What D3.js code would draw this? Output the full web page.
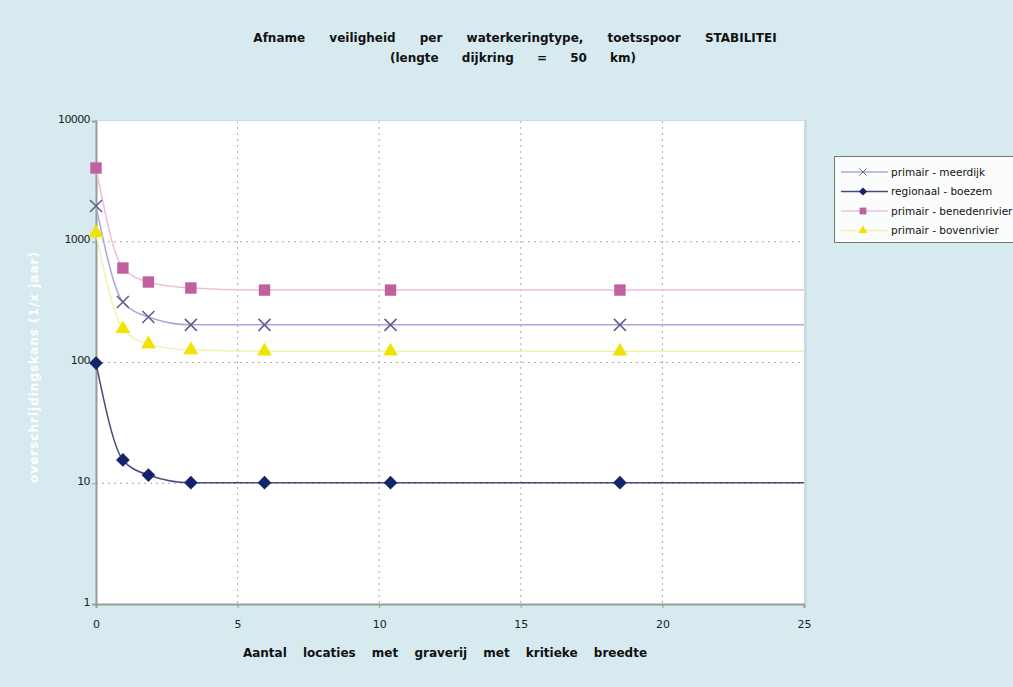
<!DOCTYPE html>
<html>
<head>
<meta charset="utf-8">
<script src="https://cdn.jsdelivr.net/npm/d3@7"></script>
<style>
  body { margin: 0; background: #d6eaf0; }
  svg { display: block; }
</style>
</head>
<body>
<div id="chart"></div>
<script>
// Data
const xValues = [0, 0.95, 1.85, 3.35, 5.95, 10.4, 18.5, 25];
const markerCount = 7; // last point only carries the line to the plot edge

const meerdijk = [1980, 317, 238, 205, 205, 205, 205, 205];
const boezem = [99, 15.6, 11.7, 10.1, 10.1, 10.1, 10.1, 10.1];
const benedenrivier = [4080, 606, 464, 414, 398, 398, 398, 398];
const bovenrivier = [1180, 190, 142, 127, 124, 124, 124, 124];

const xTicks = [0, 5, 10, 15, 20, 25];
const yTicks = [1, 10, 100, 1000, 10000];

const series = [
    { name: "primair - meerdijk", values: meerdijk, line: "#a8a8d8", marker: "#5e5e8c", symbol: "x" },
    { name: "regionaal - boezem", values: boezem, line: "#48487e", marker: "#14246a", symbol: "diamond" },
    { name: "primair - benedenrivier", values: benedenrivier, line: "#ecc0dc", marker: "#c0619e", symbol: "square" },
    { name: "primair - bovenrivier", values: bovenrivier, line: "#f6f0b0", marker: "#f2e200", symbol: "triangle" }
];

const width = 1013;
const height = 687;
const margin = { top: 121, right: 209, bottom: 83, left: 96 };
const font = "'DejaVu Sans', Verdana, sans-serif";

const svg = d3.select("#chart")
    .append("svg")
    .attr("width", width)
    .attr("height", height)
    .style("font-family", font);

svg.append("rect")
    .attr("width", width)
    .attr("height", height)
    .attr("fill", "#d6eaf0");

// Scales
const x = d3.scaleLinear()
    .domain([0, 25])
    .range([margin.left, width - margin.right]);

const y = d3.scaleLog()
    .domain([1, 10000])
    .range([height - margin.bottom, margin.top]);

// Plot area with a soft shadow
svg.append("rect")
    .attr("x", margin.left + 3)
    .attr("y", margin.top - 1)
    .attr("width", x(25) - margin.left)
    .attr("height", y(1) - y(10000))
    .attr("fill", "#c8dde3");

svg.append("rect")
    .attr("x", margin.left)
    .attr("y", margin.top)
    .attr("width", x(25) - margin.left)
    .attr("height", y(1) - y(10000))
    .attr("fill", "#ffffff");

// Gridlines
svg.append("g")
    .selectAll("line")
    .data(xTicks.filter(d => d > 0 && d < 25))
    .join("line")
    .attr("x1", d => x(d))
    .attr("x2", d => x(d))
    .attr("y1", y(10000))
    .attr("y2", y(1))
    .attr("stroke", "#a8a8a8")
    .attr("stroke-width", 1)
    .attr("stroke-dasharray", "2,4");

svg.append("g")
    .selectAll("line")
    .data(yTicks.filter(d => d > 1 && d < 10000))
    .join("line")
    .attr("x1", x(0))
    .attr("x2", x(25))
    .attr("y1", d => y(d))
    .attr("y2", d => y(d))
    .attr("stroke", "#a8a8a8")
    .attr("stroke-width", 1)
    .attr("stroke-dasharray", "2,4");

// Axes
const xAxis = svg.append("g")
    .attr("transform", `translate(0, ${y(1)})`)
    .call(d3.axisBottom(x)
        .tickValues(xTicks)
        .tickSize(4)
        .tickPadding(12)
        .tickFormat(d3.format("d")));

const yAxis = svg.append("g")
    .attr("transform", `translate(${x(0)}, 0)`)
    .call(d3.axisLeft(y)
        .tickValues(yTicks)
        .tickSize(4)
        .tickPadding(2)
        .tickFormat(d3.format("d")));

[xAxis, yAxis].forEach(g => {
    g.select(".domain").attr("stroke", "#9a9a9a").attr("stroke-width", 2);
    g.selectAll(".tick line").attr("stroke", "#9a9a9a");
    g.selectAll(".tick text")
        .attr("fill", "#222")
        .style("font-family", font)
        .style("font-size", "11px");
});
yAxis.selectAll(".tick text").attr("dy", "0.1em").style("letter-spacing", "-0.6px");

// Lines and markers
const line = d3.line()
    .x((d, i) => x(xValues[i]))
    .y(d => y(d))
    .curve(d3.curveMonotoneX);

function drawMarker(g, s, cx, cy) {
    if (s.symbol === "x") {
        g.append("path")
            .attr("d", `M${cx - 6},${cy - 6}L${cx + 6},${cy + 6}M${cx - 6},${cy + 6}L${cx + 6},${cy - 6}`)
            .attr("stroke", s.marker)
            .attr("stroke-width", 1.5)
            .attr("fill", "none");
    } else {
        const type = s.symbol === "square" ? d3.symbolSquare
            : s.symbol === "diamond" ? d3.symbolDiamond2 : d3.symbolTriangle;
        const size = s.symbol === "square" ? 130 : s.symbol === "diamond" ? 120 : 95;
        g.append("path")
            .attr("transform", `translate(${cx},${cy})`)
            .attr("d", d3.symbol().type(type).size(size)())
            .attr("fill", s.marker);
    }
}

series.forEach(s => {
    svg.append("path")
        .datum(s.values)
        .attr("fill", "none")
        .attr("stroke", s.line)
        .attr("stroke-width", 1.5)
        .attr("d", line);
});

series.forEach(s => {
    const g = svg.append("g");
    s.values.slice(0, markerCount).forEach((v, i) => {
        drawMarker(g, s, x(xValues[i]), y(v));
    });
});

// Title
svg.append("text")
    .attr("x", 515)
    .attr("y", 42)
    .attr("text-anchor", "middle")
    .style("font-size", "12px")
    .style("font-weight", "bold")
    .style("word-spacing", "20px")
    .attr("fill", "#111")
    .text("Afname veiligheid per waterkeringtype, toetsspoor STABILITEI");

svg.append("text")
    .attr("x", 513)
    .attr("y", 62)
    .attr("text-anchor", "middle")
    .style("font-size", "12px")
    .style("font-weight", "bold")
    .style("word-spacing", "19px")
    .attr("fill", "#111")
    .text("(lengte dijkring = 50 km)");

// Axis labels
svg.append("text")
    .attr("x", 445)
    .attr("y", 657)
    .attr("text-anchor", "middle")
    .style("font-size", "12px")
    .style("font-weight", "bold")
    .style("word-spacing", "12px")
    .attr("fill", "#111")
    .text("Aantal locaties met graverij met kritieke breedte");

svg.append("text")
    .attr("transform", "rotate(-90)")
    .attr("x", -367)
    .attr("y", 38)
    .attr("text-anchor", "middle")
    .style("font-size", "12px")
    .style("font-weight", "bold")
    .style("letter-spacing", "1px")
    .attr("fill", "#ffffff")
    .text("overschrijdingskans (1/x jaar)");

// Legend
const legend = svg.append("g");
legend.append("rect")
    .attr("x", 834.5)
    .attr("y", 156.5)
    .attr("width", 200)
    .attr("height", 86)
    .attr("fill", "#fbfdfd")
    .attr("stroke", "#777")
    .attr("stroke-width", 1);

series.forEach((s, i) => {
    const ly = 172 + i * 19.5;
    legend.append("line")
        .attr("x1", 841)
        .attr("x2", 888)
        .attr("y1", ly)
        .attr("y2", ly)
        .attr("stroke", s.line)
        .attr("stroke-width", 1.5);
    const mg = legend.append("g").attr("transform", `translate(${863},${ly}) scale(0.6) translate(${-863},${-ly})`);
    drawMarker(mg, s, 863, ly);
    legend.append("text")
        .attr("x", 891)
        .attr("y", ly)
        .attr("dy", "0.35em")
        .style("font-size", "10.5px")
        .attr("fill", "#111")
        .text(s.name);
});
</script>
</body>
</html>
